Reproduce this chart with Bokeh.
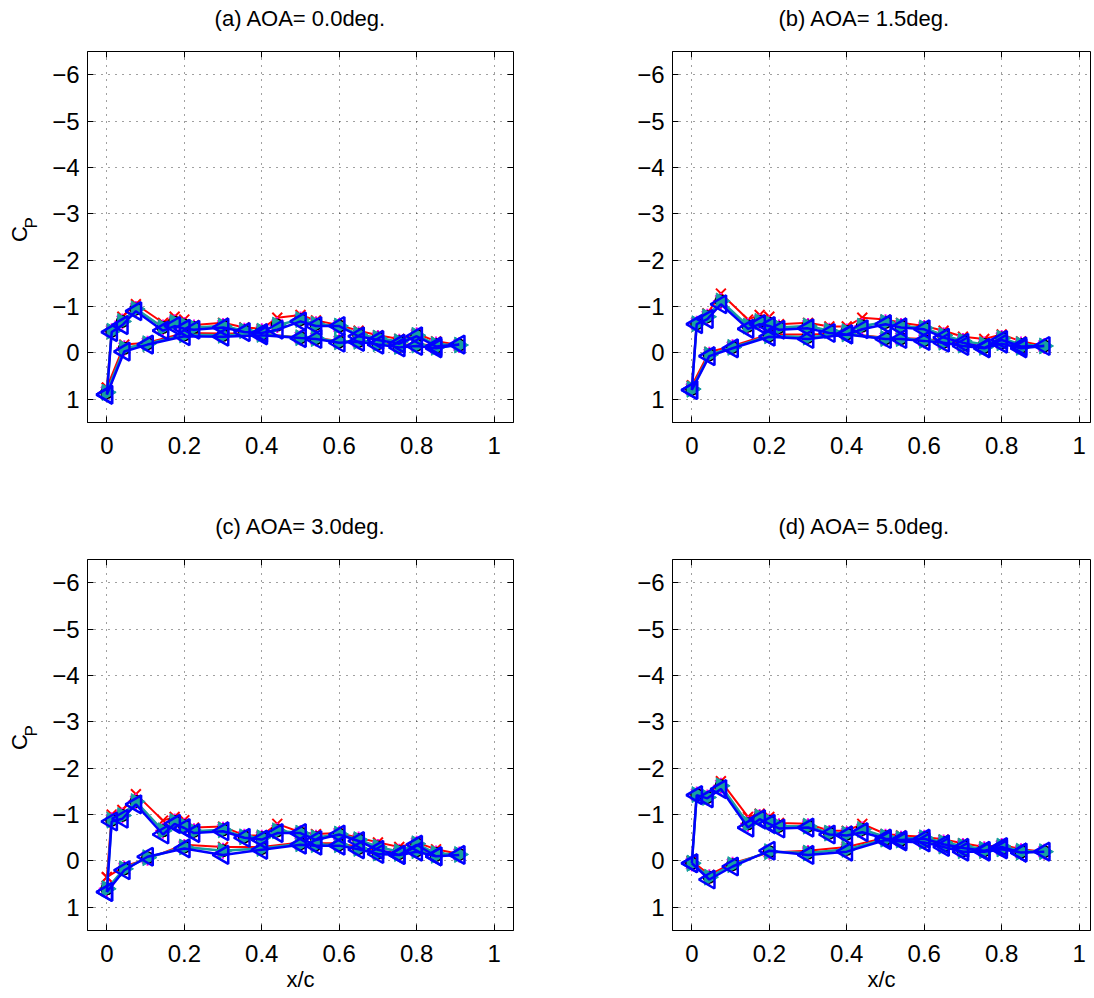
import math
from bokeh.plotting import figure
from bokeh.models import Range1d, FixedTicker, LinearAxis, Title
from bokeh.layouts import column, row
from bokeh.embed import file_html
from bokeh.resources import INLINE

# ---------------- data ----------------
# pressure-tap chord positions: upper surface LE -> TE, lower surface TE -> LE
X_UPPER = [0.0, 0.0125, 0.04, 0.075, 0.145, 0.175, 0.2, 0.225, 0.3, 0.355, 0.4,
           0.44, 0.5, 0.54, 0.6, 0.65, 0.7, 0.755, 0.8, 0.85, 0.91]
X_LOWER = [0.85, 0.8, 0.755, 0.7, 0.65, 0.6, 0.54, 0.5, 0.4, 0.3, 0.2, 0.105, 0.045, 0.0]

TITLES = ["(a) AOA= 0.0deg.", "(b) AOA= 1.5deg.", "(c) AOA= 3.0deg.", "(d) AOA= 5.0deg."]
X_LABEL = "x/c"
Y_LABEL_MAIN = "C"
Y_LABEL_SUB = "P"
X_TICKS = [0, 0.2, 0.4, 0.6, 0.8, 1]
X_TICK_LABELS = ["0", "0.2", "0.4", "0.6", "0.8", "1"]
Y_TICKS = [-6, -5, -4, -3, -2, -1, 0, 1]
Y_TICK_LABELS = ["\u22126", "\u22125", "\u22124", "\u22123", "\u22122", "\u22121", "0", "1"]

# (a) AOA = 0.0 deg
a_red_upper = [0.75, -0.50, -0.78, -1.05, -0.65, -0.78, -0.72, -0.60, -0.65, -0.55, -0.52,
               -0.76, -0.82, -0.70, -0.60, -0.48, -0.38, -0.30, -0.42, -0.25, -0.17]
a_red_lower = [-0.15, -0.20, -0.16, -0.22, -0.26, -0.26, -0.32, -0.33, -0.42, -0.42, -0.43, -0.22, -0.18, 0.75]
a_mid_upper = [0.85, -0.47, -0.68, -0.95, -0.55, -0.66, -0.60, -0.55, -0.58, -0.48, -0.47,
               -0.60, -0.72, -0.62, -0.58, -0.40, -0.32, -0.24, -0.38, -0.18, -0.17]
a_mid_lower = [-0.12, -0.17, -0.14, -0.20, -0.25, -0.24, -0.31, -0.33, -0.40, -0.38, -0.39, -0.20, -0.10, 0.85]
a_blue_upper = [0.90, -0.45, -0.60, -0.90, -0.48, -0.58, -0.52, -0.50, -0.55, -0.45, -0.43,
                -0.50, -0.68, -0.58, -0.58, -0.36, -0.28, -0.20, -0.36, -0.14, -0.18]
a_blue_lower = [-0.10, -0.15, -0.12, -0.18, -0.24, -0.22, -0.30, -0.32, -0.38, -0.35, -0.36, -0.18, -0.03, 0.90]

# (b) AOA = 1.5 deg
b_red_upper = [0.70, -0.65, -0.85, -1.28, -0.72, -0.82, -0.78, -0.62, -0.65, -0.57, -0.57,
               -0.76, -0.72, -0.65, -0.58, -0.48, -0.35, -0.30, -0.40, -0.25, -0.15]
b_red_lower = [-0.15, -0.25, -0.15, -0.20, -0.25, -0.30, -0.32, -0.33, -0.42, -0.40, -0.40, -0.15, -0.02, 0.70]
b_mid_upper = [0.78, -0.63, -0.78, -1.12, -0.58, -0.68, -0.64, -0.55, -0.58, -0.48, -0.46,
               -0.58, -0.66, -0.58, -0.54, -0.38, -0.26, -0.18, -0.32, -0.18, -0.15]
b_mid_lower = [-0.12, -0.22, -0.12, -0.17, -0.23, -0.27, -0.31, -0.31, -0.41, -0.34, -0.37, -0.12, 0.04, 0.78]
b_blue_upper = [0.80, -0.62, -0.73, -1.05, -0.52, -0.62, -0.58, -0.50, -0.53, -0.43, -0.40,
                -0.51, -0.62, -0.55, -0.51, -0.33, -0.22, -0.11, -0.28, -0.14, -0.15]
b_blue_lower = [-0.10, -0.20, -0.10, -0.15, -0.22, -0.26, -0.30, -0.30, -0.40, -0.30, -0.35, -0.10, 0.07, 0.80]

# (c) AOA = 3.0 deg
c_red_upper = [0.35, -1.00, -1.10, -1.44, -0.87, -0.95, -0.88, -0.72, -0.74, -0.55, -0.55,
               -0.80, -0.62, -0.58, -0.60, -0.50, -0.40, -0.30, -0.40, -0.25, -0.15]
c_red_lower = [-0.15, -0.25, -0.20, -0.20, -0.30, -0.38, -0.38, -0.40, -0.30, -0.30, -0.35, -0.05, 0.12, 0.35]
c_mid_upper = [0.60, -0.88, -0.98, -1.28, -0.65, -0.85, -0.76, -0.64, -0.67, -0.52, -0.50,
               -0.65, -0.60, -0.50, -0.58, -0.46, -0.30, -0.20, -0.37, -0.16, -0.14]
c_mid_lower = [-0.12, -0.22, -0.16, -0.17, -0.27, -0.35, -0.35, -0.37, -0.27, -0.22, -0.30, -0.07, 0.17, 0.60]
c_blue_upper = [0.67, -0.85, -0.91, -1.22, -0.57, -0.80, -0.71, -0.60, -0.64, -0.50, -0.46,
                -0.60, -0.60, -0.45, -0.57, -0.43, -0.24, -0.13, -0.35, -0.10, -0.13]
c_blue_lower = [-0.10, -0.20, -0.13, -0.15, -0.25, -0.33, -0.33, -0.35, -0.24, -0.13, -0.27, -0.09, 0.20, 0.67]

# (d) AOA = 5.0 deg
d_red_upper = [0.00, -1.45, -1.40, -1.72, -0.95, -1.02, -0.95, -0.82, -0.80, -0.65, -0.65,
               -0.80, -0.58, -0.55, -0.52, -0.46, -0.38, -0.30, -0.35, -0.25, -0.20]
d_red_lower = [-0.20, -0.28, -0.25, -0.25, -0.35, -0.45, -0.48, -0.50, -0.30, -0.22, -0.18, 0.05, 0.30, 0.00]
d_mid_upper = [0.05, -1.43, -1.37, -1.62, -0.80, -0.95, -0.85, -0.75, -0.75, -0.60, -0.58,
               -0.68, -0.52, -0.48, -0.50, -0.40, -0.32, -0.25, -0.32, -0.21, -0.20]
d_mid_lower = [-0.19, -0.26, -0.22, -0.22, -0.32, -0.42, -0.45, -0.47, -0.25, -0.17, -0.20, 0.08, 0.35, 0.05]
d_blue_upper = [0.05, -1.42, -1.35, -1.55, -0.72, -0.90, -0.80, -0.70, -0.72, -0.57, -0.55,
                -0.62, -0.48, -0.45, -0.48, -0.36, -0.28, -0.22, -0.30, -0.18, -0.20]
d_blue_lower = [-0.18, -0.25, -0.20, -0.20, -0.30, -0.40, -0.42, -0.45, -0.20, -0.13, -0.22, 0.12, 0.40, 0.05]

# ---------------- styling ----------------
FONT = "Liberation Sans"
TICK_FS = "24px"
FRAME_H = 371
PX_PER_UNIT = 426 / 1.1
BLUE = "#0000ff"
TEAL = "#18a0a0"


def style_axis(ax, ticks, labels, show_labels=True):
    ax.ticker = FixedTicker(ticks=ticks)
    ax.major_label_overrides = {t: l for t, l in zip(ticks, labels)}
    ax.major_tick_in = 6
    ax.major_tick_out = 0
    ax.major_tick_line_color = "black"
    ax.minor_tick_line_color = None
    ax.axis_line_color = "black"
    ax.major_label_text_font = FONT
    if show_labels:
        ax.major_label_text_font_size = TICK_FS
        ax.major_label_text_color = "black"
    else:
        ax.major_label_text_font_size = "0px"
        ax.major_label_text_color = None
        ax.major_label_standoff = 0


def panel(title, red, mid, blue, left, bottom):
    fw = 426 if left else 418
    p = figure(frame_width=fw, frame_height=FRAME_H, output_backend="svg", toolbar_location=None,
               x_range=Range1d(-0.05, -0.05 + fw / PX_PER_UNIT), y_range=Range1d(1.5, -6.5),
               min_border_left=87 if left else 72, min_border_right=87 if left else 2,
               min_border_top=51, min_border_bottom=66 if bottom else 86,
               title=None, background_fill_color="white", border_fill_color="white")
    p.outline_line_color = "black"
    p.outline_line_width = 1
    p.outline_line_alpha = 1.0

    xa = p.xaxis[0]
    ya = p.yaxis[0]
    style_axis(xa, X_TICKS, X_TICK_LABELS)
    xa.major_label_standoff = 14
    style_axis(ya, Y_TICKS, Y_TICK_LABELS)
    ya.major_label_standoff = 8

    # inward ticks along the top of the box
    top = LinearAxis()
    style_axis(top, X_TICKS, X_TICK_LABELS, show_labels=False)
    top.axis_line_color = None
    p.add_layout(top, "above")
    # invisible spacer between the box and the title
    spacer = LinearAxis()
    style_axis(spacer, X_TICKS, X_TICK_LABELS, show_labels=False)
    spacer.axis_line_color = None
    spacer.major_tick_in = 0
    spacer.major_tick_out = 18
    spacer.major_tick_line_alpha = 0
    p.add_layout(spacer, "above")

    if left:
        right = LinearAxis()
        style_axis(right, Y_TICKS, Y_TICK_LABELS, show_labels=False)
        right.axis_line_color = None
        p.add_layout(right, "right")

    if left:
        t = Title(text=title, align="center", text_font=FONT, text_font_size="22px",
                  text_font_style="normal", text_color="black", standoff=5)
    else:
        t = Title(text=title, align="left", offset=106, text_font=FONT, text_font_size="22px",
                  text_font_style="normal", text_color="black", standoff=5)
    p.add_layout(t, "above")

    if left:
        # subscript "P" on the main y axis, "C" on an outer label-only axis
        ya.axis_label = "\u00a0" * 6 + Y_LABEL_SUB
        ya.axis_label_text_font = FONT
        ya.axis_label_text_font_size = "17px"
        ya.axis_label_text_font_style = "normal"
        ya.axis_label_text_color = "black"
        ya.axis_label_standoff = 8
        outer = LinearAxis(ticker=FixedTicker(ticks=[]), axis_line_color=None,
                           major_tick_line_color=None, minor_tick_line_color=None,
                           major_tick_in=0, major_tick_out=0, minor_tick_out=0,
                           major_label_standoff=0, major_label_text_font_size="0px",
                           major_label_text_color=None,
                           axis_label="\u00a0" + Y_LABEL_MAIN, axis_label_text_font=FONT,
                           axis_label_text_font_size="22px", axis_label_text_font_style="normal",
                           axis_label_text_color="black", axis_label_standoff=-12)
        p.add_layout(outer, "left")
    if bottom:
        xa.axis_label = X_LABEL
        xa.axis_label_text_font = FONT
        xa.axis_label_text_font_size = "22px"
        xa.axis_label_text_font_style = "normal"
        xa.axis_label_text_color = "black"
        xa.axis_label_standoff = 2

    p.grid.grid_line_color = "black"
    p.grid.grid_line_alpha = 0.75
    p.grid.grid_line_dash = "1 6"
    p.grid.grid_line_width = 1

    xs = X_UPPER + X_LOWER
    r = red[0] + red[1]
    m = mid[0] + mid[1]
    b = blue[0] + blue[1]

    p.line(xs, r, line_color="red", line_width=2)
    p.scatter(xs, r, marker="x", size=14, line_color="red", line_width=2)
    p.line(xs, m, line_color="magenta", line_width=1.5)
    p.scatter(xs, m, marker="asterisk", size=16, line_color="magenta", line_width=2)
    p.scatter(xs, m, marker="circle", size=11, line_color="black", fill_color=None, line_width=2)
    p.line(xs, m, line_color=TEAL, line_width=2.5)
    p.scatter(xs, m, marker="triangle", angle=-math.pi / 2, size=16, line_color=TEAL,
              fill_color=TEAL, line_width=1)
    p.line(xs, b, line_color=BLUE, line_width=2.5)
    p.scatter(xs, b, marker="triangle", angle=math.pi / 2, size=18, line_color=BLUE,
              fill_color=None, line_width=2.5)
    return p


pa = panel(TITLES[0], (a_red_upper, a_red_lower), (a_mid_upper, a_mid_lower), (a_blue_upper, a_blue_lower), True, False)
pb = panel(TITLES[1], (b_red_upper, b_red_lower), (b_mid_upper, b_mid_lower), (b_blue_upper, b_blue_lower), False, False)
pc = panel(TITLES[2], (c_red_upper, c_red_lower), (c_mid_upper, c_mid_lower), (c_blue_upper, c_blue_lower), True, True)
pd = panel(TITLES[3], (d_red_upper, d_red_lower), (d_mid_upper, d_mid_lower), (d_blue_upper, d_blue_lower), False, True)

layout = column(row(pa, pb), row(pc, pd))
open("out.html", "w").write(file_html(layout, INLINE))
